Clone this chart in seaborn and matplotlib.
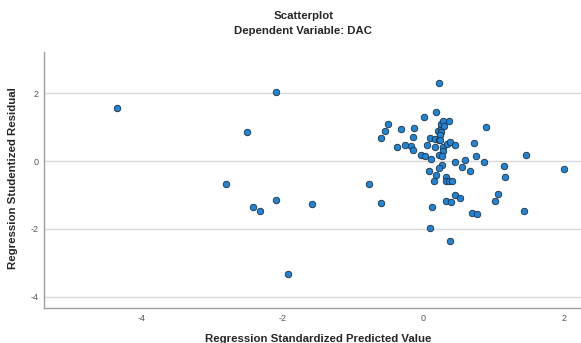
import numpy as np
import pandas as pd
import seaborn as sns
import matplotlib
matplotlib.use("Agg")
import matplotlib.pyplot as plt

# predicted value (standardized) and studentized residual
pred = [-4.35, -2.09, -2.50, -2.80, -2.42, -2.32, -2.09, -1.57, -1.92,
        0.22, 0.18, 0.02, -0.49, -0.54, -0.60, -0.31, -0.13, -0.14, -0.37,
        -0.25, -0.17, -0.14, -0.03, 0.03, 0.12, 0.06, 0.10, 0.17, 0.23,
        0.21, 0.25, 0.26, 0.28, 0.30, 0.37, 0.26, 0.24, 0.24, 0.17, 0.28,
        0.28, 0.23, 0.27, 0.34, 0.39, 0.46, 0.72, 0.89, 0.75, 0.46, 0.60,
        0.87, 0.55, 0.67, 1.15, 1.46, 2.00, 1.16, 0.27, 0.22, 0.08, 0.18,
        0.15, 0.32, 0.33, 0.37, 0.41, -0.77, -0.60, 0.13, 0.46, 0.53, 0.33,
        0.40, 1.06, 1.02, 0.69, 0.76, 1.43, 0.10, 0.38]
resid = [1.57, 2.03, 0.85, -0.69, -1.36, -1.48, -1.14, -1.27, -3.33,
         2.31, 1.46, 1.31, 1.09, 0.89, 0.69, 0.95, 0.98, 0.71, 0.43,
         0.49, 0.45, 0.33, 0.18, 0.15, 0.06, 0.47, 0.68, 0.65, 0.61,
         0.90, 0.99, 1.09, 1.19, 1.05, 1.18, 0.87, 0.77, 0.62, 0.41, 0.43,
         0.31, 0.18, 0.16, 0.52, 0.56, 0.47, 0.53, 1.00, 0.14, -0.02, 0.03,
         -0.02, -0.17, -0.28, -0.14, 0.18, -0.24, -0.47, -0.11, -0.19, -0.30, -0.40,
         -0.60, -0.47, -0.59, -0.59, -0.60, -0.68, -1.24, -1.36, -1.00, -1.09, -1.17,
         -1.21, -0.98, -1.18, -1.54, -1.57, -1.48, -1.98, -2.36]

xticks = [-4, -2, 0, 2]
yticks = [-4, -2, 0, 2]

df = pd.DataFrame({"pred": pred, "resid": resid})

sns.set_style("white")
plt.rcParams['font.family'] = ['Liberation Sans', 'DejaVu Sans']
plt.rcParams['axes.unicode_minus'] = False

fig = plt.figure(figsize=(5.81, 3.43), dpi=100)
ax = fig.add_axes([0.0757, 0.102, 0.924, 0.746])

ax.grid(axis="y", color="#d9d9d9", linewidth=1.0)
ax.set_axisbelow(True)
sns.scatterplot(data=df, x="pred", y="resid", ax=ax, s=22,
                color="#1f84d6", edgecolor="#203040", linewidth=0.6, zorder=3)

ax.set_xlim(-5.38, 2.24)
ax.set_ylim(-4.34, 3.22)
ax.set_xticks(xticks)
ax.set_yticks(yticks)
ax.tick_params(axis="both", length=0, labelsize=6.5, labelcolor="#555555", pad=4)

for s in ["top", "right"]:
    ax.spines[s].set_visible(False)
for s in ["left", "bottom"]:
    ax.spines[s].set_color("#a0a0a0")
    ax.spines[s].set_linewidth(1.0)

ax.set_xlabel("Regression Standardized Predicted Value", fontsize=8.2, fontweight="bold")
ax.set_ylabel("Regression Studentized Residual", fontsize=8.2, fontweight="bold")
ax.xaxis.set_label_coords(0.51, -0.10)
ax.yaxis.set_label_coords(-0.048, 0.508)

fig.text(0.522, 0.953, "Scatterplot", ha="center", va="center", fontsize=8.2, fontweight="bold")
fig.text(0.522, 0.909, "Dependent Variable: DAC", ha="center", va="center", fontsize=8.2, fontweight="bold")

fig.savefig("out.png", dpi=100, facecolor="white")
